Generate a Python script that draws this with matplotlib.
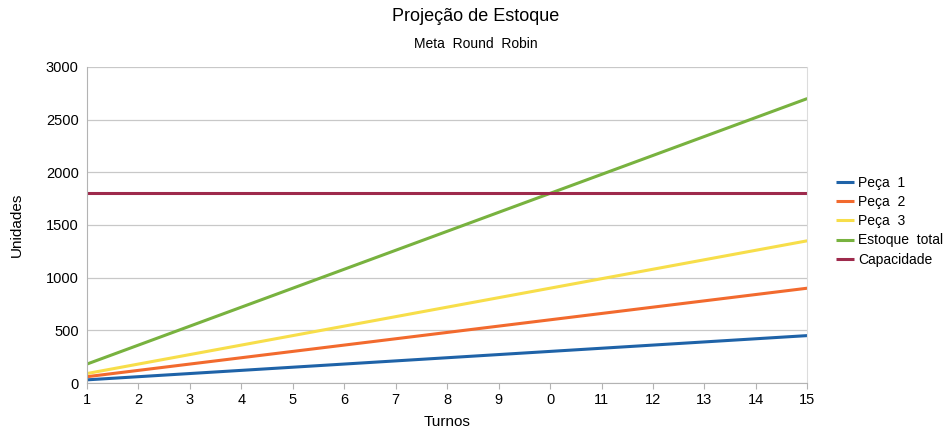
import numpy as np
import matplotlib.pyplot as plt

plt.rcParams['font.family'] = ['Liberation Sans', 'DejaVu Sans']

turnos = list(range(1, 16))
tick_labels = ['1', '2', '3', '4', '5', '6', '7', '8', '9', '0',
               '11', '12', '13', '14', '15']

peca1 = [30, 60, 90, 120, 150, 180, 210, 240, 270, 300, 330, 360, 390, 420, 450]
peca2 = [60, 120, 180, 240, 300, 360, 420, 480, 540, 600, 660, 720, 780, 840, 900]
peca3 = [90, 180, 270, 360, 450, 540, 630, 720, 810, 900, 990, 1080, 1170, 1260, 1350]
estoque_total = [180, 360, 540, 720, 900, 1080, 1260, 1440, 1620, 1800,
                 1980, 2160, 2340, 2520, 2700]
capacidade = [1800] * 15

series = [
    ('Peça  1', peca1, '#1f63a8'),
    ('Peça  2', peca2, '#f26a2e'),
    ('Peça  3', peca3, '#f7de4a'),
    ('Estoque  total', estoque_total, '#78b23f'),
    ('Capacidade', capacidade, '#9e2a4c'),
]

fig = plt.figure(figsize=(9.52, 4.32), dpi=100)
ax = fig.add_axes([0.0914, 0.1134, 0.7566, 0.7316])

for label, values, color in series:
    ax.plot(turnos, values, color=color, linewidth=2.2, label=label,
            solid_capstyle='butt')

ax.set_xlim(1, 15)
ax.set_ylim(0, 3000)
ax.set_xticks(turnos)
ax.set_xticklabels(tick_labels)
ax.set_yticks(np.arange(0, 3001, 500))
ax.grid(axis='y', color='#c8c8c8', linewidth=0.9)
ax.set_axisbelow(True)

for side in ['left', 'bottom']:
    ax.spines[side].set_color('#b3b3b3')
ax.spines['right'].set_color('#dcdcdc')
ax.spines['top'].set_visible(False)
ax.tick_params(axis='x', length=4, color='#b3b3b3', labelsize=10.5, pad=3)
ax.tick_params(axis='y', length=0, labelsize=10.5, pad=6)

ax.set_xlabel('Turnos', fontsize=11, labelpad=6)
ax.set_ylabel('Unidades', fontsize=11, labelpad=16)

fig.text(0.5, 0.962, 'Projeção de Estoque', ha='center', va='center', fontsize=13)
fig.text(0.5, 0.898, 'Meta  Round  Robin', ha='center', va='center', fontsize=10)

fig.legend(loc='center left', bbox_to_anchor=(0.878, 0.488), frameon=False,
           fontsize=10, handlelength=1.3, handletextpad=0.3, labelspacing=0.38,
           borderpad=0, borderaxespad=0)

fig.savefig('out.png', dpi=100)
